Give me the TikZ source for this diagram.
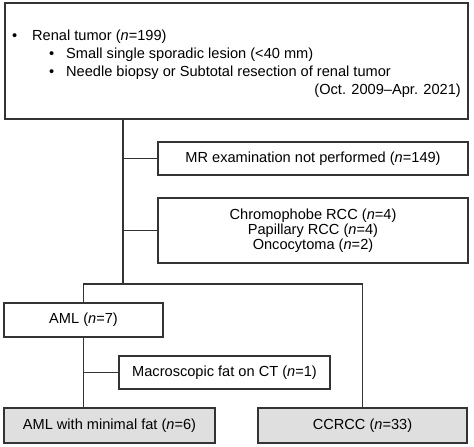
\documentclass[tikz,border=0pt]{standalone}
\usepackage{fontspec}
\setmainfont{Liberation Sans}
\usepackage{tikz}
\usetikzlibrary{positioning,calc}
\tikzset{
  link/.style={line width=1.1pt, black!80},
  flowbox/.style={draw=black!80, line width=1.1pt, fill=white, inner sep=0pt, align=center},
  endbox/.style={flowbox, fill=gray!25},
  txt/.style={inner sep=0pt, anchor=base west}
}
\begin{document}
\begin{tikzpicture}[x=1pt, y=-1pt, every node/.style={font=\fontsize{14.6}{14.8}\selectfont}]
      \useasboundingbox (0,0) rectangle (474,447);
      \node[flowbox, minimum width=463pt, minimum height=116pt] (top) at (236.5,61) {};
      \node[txt] (b1) at (12,40) {•};
      \node[txt] (t1) at (32,40) {Renal tumor (\textit{n}=199)};
      \node[txt] (b2) at (49,58) {•};
      \node[txt] (t2) at (66,58) {Small single sporadic lesion (<40 mm)};
      \node[txt] (b3) at (49,76) {•};
      \node[txt] (t3) at (66,76) {Needle biopsy or Subtotal resection of renal tumor};
      \node[txt, anchor=base east] (t4) at (461,94) {(Oct. 2009–Apr. 2021)};
      \node[flowbox, minimum width=310pt, minimum height=33pt] (mr) at (313,158.5) {MR examination not performed (\textit{n}=149)};
      \node[flowbox, minimum width=310pt, minimum height=65pt] (excl) at (313,230.5) {Chromophobe RCC (\textit{n}=4)\\Papillary RCC (\textit{n}=4)\\Oncocytoma (\textit{n}=2)};
      \node[flowbox, minimum width=159pt, minimum height=34pt] (aml) at (83.5,320) {AML (\textit{n}=7)};
      \node[flowbox, minimum width=211pt, minimum height=33pt] (macro) at (224.5,372.5) {Macroscopic fat on CT (\textit{n}=1)};
      \node[endbox, minimum width=211pt, minimum height=35pt] (minfat) at (109.5,425.5) {AML with minimal fat (\textit{n}=6)};
      \node[endbox, minimum width=209pt, minimum height=35pt] (ccrcc) at (362.5,425.5) {CCRCC (\textit{n}=33)};
      \coordinate (split) at (123,284);
      % trunk and exclusions
      \draw[link] (top.south -| split) -- (split);
      \draw[link] (mr.west -| split) -- (mr.west);
      \draw[link] (excl.west -| split) -- (excl.west);
      % branches
      \draw[link] (aml.north) -- (aml.north |- split) -- (ccrcc.north |- split) -- (ccrcc.north);
      \draw[link] (aml.south) -- (aml.south |- minfat.north);
      \draw[link] (macro.west -| aml.south) -- (macro.west);
    \end{tikzpicture}
\end{document}
